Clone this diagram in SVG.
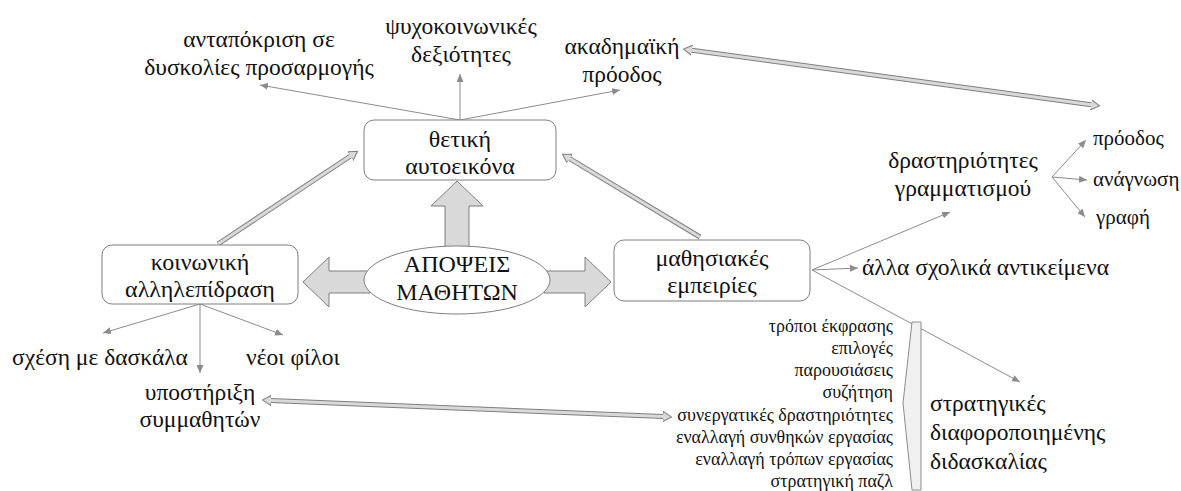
<svg xmlns="http://www.w3.org/2000/svg" width="1181" height="491" viewBox="0 0 1181 491">
  <style>
    text { font-family: "Liberation Serif", "Times New Roman", serif; fill: #111; }
    .lbl { font-size: 23.5px; }
    .inbox { font-size: 24px; }
    .big { font-size: 24px; }
    .sm { font-size: 21px; }
    .lst { font-size: 18px; }
    .box { fill: #fff; stroke: #7f7f7f; stroke-width: 1; }
    .blk { fill: #d9d9d9; stroke: #7f7f7f; stroke-width: 1; }
    .thin { stroke: #8c8c8c; stroke-width: 1; fill: none; }
    .dblo { stroke: #7f7f7f; stroke-width: 5; fill: none; }
    .dbli { stroke: #d9d9d9; stroke-width: 3; fill: none; }
  </style>
  <defs>
    <marker id="tri" viewBox="0 0 8 7" refX="8" refY="3.5" markerWidth="8" markerHeight="7" markerUnits="userSpaceOnUse" orient="auto">
      <path d="M0,0 L8,3.5 L0,7 Z" fill="#8c8c8c"/>
    </marker>
    <marker id="hollow" viewBox="0 0 9 11" refX="0" refY="5.5" markerWidth="9" markerHeight="11" markerUnits="userSpaceOnUse" orient="auto-start-reverse">
      <path d="M0,0 L9,5.5 L0,11 Z" fill="#d9d9d9"/>
      <path d="M0,3 L0,0.5 L8.5,5.5 L0,10.5 L0,8" fill="none" stroke="#7f7f7f" stroke-width="1"/>
    </marker>
  </defs>

  <!-- connectors -->
  <g id="connectors">
    <!-- from the self-image box -->
    <line class="thin" x1="460" y1="120" x2="260" y2="85" marker-end="url(#tri)"/>
    <line class="thin" x1="460" y1="120" x2="460" y2="74" marker-end="url(#tri)"/>
    <line class="thin" x1="460" y1="120" x2="620" y2="90" marker-end="url(#tri)"/>
    <!-- from social interaction -->
    <line class="thin" x1="200" y1="304" x2="103" y2="333" marker-end="url(#tri)"/>
    <line class="thin" x1="200" y1="304" x2="200" y2="373" marker-end="url(#tri)" stroke="#c8c8c8"/>
    <line class="thin" x1="200" y1="304" x2="283" y2="335" marker-end="url(#tri)"/>
    <!-- from learning experiences -->
    <line class="thin" x1="812" y1="270" x2="950" y2="212" marker-end="url(#tri)"/>
    <line class="thin" x1="812" y1="270" x2="858" y2="268" marker-end="url(#tri)"/>
    <line class="thin" x1="812" y1="270" x2="1020" y2="382" marker-end="url(#tri)"/>
    <!-- from literacy activities -->
    <line class="thin" x1="1052" y1="177" x2="1086" y2="140" marker-end="url(#tri)"/>
    <line class="thin" x1="1052" y1="177" x2="1087" y2="180" marker-end="url(#tri)"/>
    <line class="thin" x1="1052" y1="177" x2="1085" y2="217" marker-end="url(#tri)"/>

    <!-- hollow arrows -->
    <line class="dblo" x1="218" y1="244" x2="350.5" y2="156"/>
    <line class="dbli" x1="218" y1="244" x2="350.5" y2="156" marker-end="url(#hollow)"/>
    <line class="dblo" x1="700" y1="237" x2="569.7" y2="158.6"/>
    <line class="dbli" x1="700" y1="237" x2="569.7" y2="158.6" marker-end="url(#hollow)"/>
    <line class="dblo" x1="691.9" y1="50.2" x2="1091.1" y2="104.8"/>
    <line class="dbli" x1="691.9" y1="50.2" x2="1091.1" y2="104.8" marker-start="url(#hollow)" marker-end="url(#hollow)"/>
    <line class="dblo" x1="271" y1="400.4" x2="663" y2="416.6"/>
    <line class="dbli" x1="271" y1="400.4" x2="663" y2="416.6" marker-start="url(#hollow)" marker-end="url(#hollow)"/>

    <!-- block arrows out of the centre -->
    <polygon class="blk" points="457,181 483,206 469,206 469,252 445,252 445,206 431,206"/>
    <polygon class="blk" points="303,282 329,257 329,271 370,271 370,293 329,293 329,307"/>
    <polygon class="blk" points="611,282 585,257 585,271 544,271 544,293 585,293 585,307"/>
  </g>

  <g id="views">
    <ellipse cx="457" cy="280" rx="93" ry="34" fill="#fff" stroke="#7f7f7f" stroke-width="1"/>
    <text class="big" x="457" y="272" text-anchor="middle">ΑΠΟΨΕΙΣ</text>
    <text class="big" x="457" y="300" text-anchor="middle">ΜΑΘΗΤΩΝ</text>
  </g>

  <g id="self-image">
    <rect class="box" x="364" y="120" width="192" height="60" rx="10"/>
    <text class="inbox" x="460" y="147" text-anchor="middle">θετική</text>
    <text class="inbox" x="460" y="174" text-anchor="middle">αυτοεικόνα</text>
  </g>

  <g id="social">
    <rect class="box" x="102" y="245" width="196" height="59" rx="10"/>
    <text class="inbox" x="200" y="270" text-anchor="middle">κοινωνική</text>
    <text class="inbox" x="200" y="297" text-anchor="middle">αλληλεπίδραση</text>
  </g>

  <g id="learning">
    <rect class="box" x="614" y="240" width="196" height="61" rx="10"/>
    <text class="inbox" x="712" y="266" text-anchor="middle">μαθησιακές</text>
    <text class="inbox" x="712" y="293" text-anchor="middle">εμπειρίες</text>
  </g>

  <g id="adjustment">
    <text class="lbl" x="259" y="47" text-anchor="middle">ανταπόκριση σε</text>
    <text class="lbl" x="259" y="75" text-anchor="middle">δυσκολίες προσαρμογής</text>
  </g>
  <g id="psychosocial">
    <text class="lbl" x="461" y="34" text-anchor="middle">ψυχοκοινωνικές</text>
    <text class="lbl" x="461" y="62" text-anchor="middle">δεξιότητες</text>
  </g>
  <g id="academic">
    <text class="lbl" x="622" y="54" text-anchor="middle">ακαδημαϊκή</text>
    <text class="lbl" x="622" y="82" text-anchor="middle">πρόοδος</text>
  </g>

  <g id="literacy">
    <text class="lbl" x="963" y="168" text-anchor="middle">δραστηριότητες</text>
    <text class="lbl" x="963" y="196" text-anchor="middle">γραμματισμού</text>
  </g>
  <g id="progress"><text class="sm" x="1093" y="145">πρόοδος</text></g>
  <g id="reading"><text class="sm" x="1093" y="186">ανάγνωση</text></g>
  <g id="writing"><text class="sm" x="1096" y="224">γραφή</text></g>

  <g id="other-subjects">
    <text class="lbl" x="862" y="275">άλλα σχολικά αντικείμενα</text>
  </g>

  <g id="teacher"><text class="lbl" x="100" y="365" text-anchor="middle">σχέση με δασκάλα</text></g>
  <g id="friends"><text class="lbl" x="293" y="365" text-anchor="middle">νέοι φίλοι</text></g>
  <g id="peer-support">
    <text class="lbl" x="200" y="400" text-anchor="middle">υποστήριξη</text>
    <text class="lbl" x="200" y="427" text-anchor="middle">συμμαθητών</text>
  </g>

  <g id="strategy-list">
    <text class="lst" x="893" y="332" text-anchor="end">τρόποι έκφρασης</text>
    <text class="lst" x="893" y="354" text-anchor="end">επιλογές</text>
    <text class="lst" x="893" y="376" text-anchor="end">παρουσιάσεις</text>
    <text class="lst" x="893" y="398" text-anchor="end">συζήτηση</text>
    <text class="lst" x="893" y="421" text-anchor="end">συνεργατικές δραστηριότητες</text>
    <text class="lst" x="893" y="443" text-anchor="end">εναλλαγή συνθηκών εργασίας</text>
    <text class="lst" x="893" y="465" text-anchor="end">εναλλαγή τρόπων εργασίας</text>
    <text class="lst" x="893" y="487" text-anchor="end">στρατηγική παζλ</text>
  </g>
  <g id="brace">
    <polygon points="912,322 921,322 921,490 912,490 903,403" fill="#f0f0f0" stroke="#8c8c8c" stroke-width="1"/>
  </g>
  <g id="differentiated">
    <text class="lbl" x="930" y="411">στρατηγικές</text>
    <text class="lbl" x="930" y="440">διαφοροποιημένης</text>
    <text class="lbl" x="930" y="469">διδασκαλίας</text>
  </g>
</svg>
